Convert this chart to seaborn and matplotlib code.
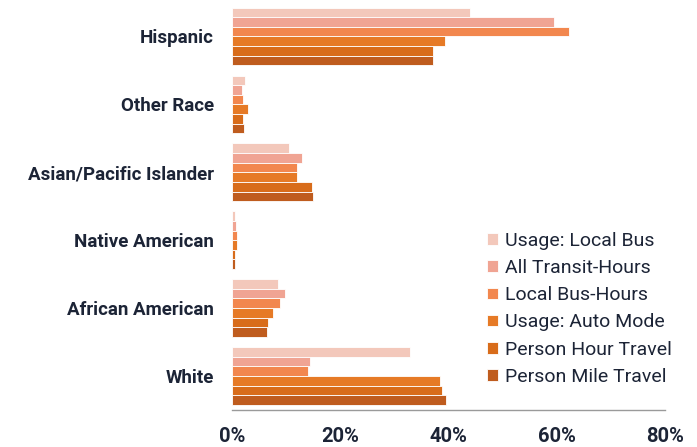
import matplotlib
matplotlib.use("Agg")
import matplotlib.pyplot as plt
import seaborn as sns
import pandas as pd
from matplotlib.ticker import FuncFormatter

groups = ["Hispanic", "Other Race", "Asian/Pacific Islander",
          "Native American", "African American", "White"]
series = ["Usage: Local Bus", "All Transit-Hours", "Local Bus-Hours",
          "Usage: Auto Mode", "Person Hour Travel", "Person Mile Travel"]

usage_local_bus = [44.0, 2.4, 10.5, 0.6, 8.5, 32.8]
all_transit_hours = [59.5, 1.8, 13.0, 0.8, 9.8, 14.4]
local_bus_hours = [62.3, 2.0, 12.0, 0.9, 8.9, 14.0]
usage_auto_mode = [39.4, 3.0, 12.0, 0.9, 7.6, 38.5]
person_hour_travel = [37.2, 2.0, 14.8, 0.5, 6.7, 38.8]
person_mile_travel = [37.2, 2.2, 15.0, 0.5, 6.4, 39.5]

x_ticks = [0, 20, 40, 60, 80]

palette = ["#f3c8bb", "#f0a493", "#f2874e", "#e67a26", "#d86c1a", "#bf5c1e"]
text_color = "#1c2436"

values = [usage_local_bus, all_transit_hours, local_bus_hours,
          usage_auto_mode, person_hour_travel, person_mile_travel]
rows = []
for name, vals in zip(series, values):
    for g, v in zip(groups, vals):
        rows.append({"group": g, "series": name, "share": v})
df = pd.DataFrame(rows)

sns.set_theme(style="white")
plt.rcParams["font.family"] = ["Roboto", "DejaVu Sans"]

fig = plt.figure(figsize=(6.97, 4.47), dpi=100)
ax = fig.add_axes([0.333, 0.0828, 0.621, 0.9116])

sns.barplot(data=df, y="group", x="share", hue="series",
            order=groups, hue_order=series, palette=palette,
            saturation=1, orient="h", width=0.85,
            edgecolor="white", linewidth=0.6,
            errorbar=None, ax=ax)

ax.set_xlim(0, 80)
ax.set_ylim(5.5, -0.5)
ax.set_xticks(x_ticks)
ax.xaxis.set_major_formatter(FuncFormatter(lambda v, p: f"{v:.0f}%"))
ax.set_xlabel("")
ax.set_ylabel("")

for s in ["top", "right", "left"]:
    ax.spines[s].set_visible(False)
ax.spines["bottom"].set_color("#9a9a9a")
ax.spines["bottom"].set_linewidth(1.0)

ax.tick_params(axis="x", length=0, pad=12, labelsize=14.5, colors=text_color)
ax.tick_params(axis="y", length=0, pad=13, labelsize=13.5, colors=text_color)
for lbl in ax.get_xticklabels() + ax.get_yticklabels():
    lbl.set_fontweight("bold")

handles, labels = ax.get_legend_handles_labels()
ax.legend(handles, labels, loc="upper left",
          bbox_to_anchor=(487 / 697, 1 - 232 / 447),
          bbox_transform=fig.transFigure,
          frameon=False, fontsize=14, labelcolor=text_color,
          handlelength=0.55, handleheight=0.55, handletextpad=0.4,
          labelspacing=0.47, borderpad=0, borderaxespad=0)

fig.savefig("out.png", dpi=100, facecolor="white")
